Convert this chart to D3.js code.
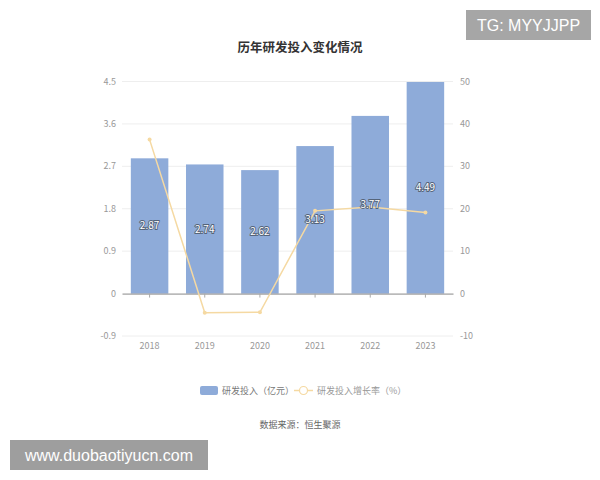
<!DOCTYPE html>
<html>
<head>
<meta charset="utf-8">
<script src="https://cdn.jsdelivr.net/npm/d3@7/dist/d3.min.js"></script>
<style>
  body { margin: 0; background: #fff; }
  svg { font-family: "Noto Sans CJK SC", "Noto Sans", sans-serif; }
</style>
</head>
<body>
<div id="chart"></div>
<script>
/** Chart data */
const years = ["2018", "2019", "2020", "2021", "2022", "2023"];
const investment = [2.87, 2.74, 2.62, 3.13, 3.77, 4.49];
const growthRate = [36.3, -4.5, -4.4, 19.5, 20.4, 19.1];
const leftTicks = [-0.9, 0, 0.9, 1.8, 2.7, 3.6, 4.5];
const rightTicks = [-10, 0, 10, 20, 30, 40, 50];

/** Graph configs */
const width = 600;
const height = 480;
const plot = { left: 122, right: 453, top: 81.5, bottom: 336 };
const barColor = "#8eabd9";
const lineColor = "#f5d9a2";

const svg = d3
  .select("#chart")
  .append("svg")
  .attr("width", width)
  .attr("height", height);

const x = d3
  .scaleBand()
  .domain(years)
  .range([plot.left, plot.right])
  .paddingInner(0.32)
  .paddingOuter(0.16);

const yLeft = d3.scaleLinear().domain([-0.9, 4.5]).range([plot.bottom, plot.top]);
const yRight = d3.scaleLinear().domain([-10, 50]).range([plot.bottom, plot.top]);

/** Title */
svg
  .append("text")
  .attr("x", 300)
  .attr("y", 52)
  .attr("text-anchor", "middle")
  .attr("font-size", 12.5)
  .attr("font-weight", "bold")
  .attr("fill", "#333")
  .text("历年研发投入变化情况");

/** Gridlines */
svg
  .append("g")
  .selectAll("line")
  .data(leftTicks.filter((d) => d !== 0))
  .join("line")
  .attr("x1", plot.left)
  .attr("x2", plot.right)
  .attr("y1", (d) => yLeft(d))
  .attr("y2", (d) => yLeft(d))
  .attr("stroke", "#eeeeee");

/** Left axis labels */
svg
  .append("g")
  .selectAll("text")
  .data(leftTicks)
  .join("text")
  .attr("x", plot.left - 6)
  .attr("y", (d) => yLeft(d))
  .attr("dy", "0.35em")
  .attr("text-anchor", "end")
  .attr("font-size", 9)
  .attr("fill", "#999")
  .text((d) => d);

/** Right axis labels */
svg
  .append("g")
  .selectAll("text")
  .data(rightTicks)
  .join("text")
  .attr("x", plot.right + 7)
  .attr("y", (d) => yRight(d))
  .attr("dy", "0.35em")
  .attr("text-anchor", "start")
  .attr("font-size", 9)
  .attr("fill", "#999")
  .text((d) => d);

/** Bars */
svg
  .append("g")
  .selectAll("rect")
  .data(investment)
  .join("rect")
  .attr("x", (_, i) => x(years[i]))
  .attr("width", x.bandwidth())
  .attr("y", (d) => yLeft(d))
  .attr("height", (d) => yLeft(0) - yLeft(d))
  .attr("fill", barColor);

/** Zero axis line with ticks */
const xAxis = svg
  .append("g")
  .attr("transform", `translate(0, ${yLeft(0)})`)
  .call(d3.axisBottom(x).tickSize(4).tickSizeOuter(0).tickFormat(""));
xAxis.select(".domain").attr("stroke", "#888");
xAxis.selectAll(".tick line").attr("stroke", "#aaa");

/** X labels */
svg
  .append("g")
  .selectAll("text")
  .data(years)
  .join("text")
  .attr("x", (d) => x(d) + x.bandwidth() / 2)
  .attr("y", plot.bottom + 13)
  .attr("text-anchor", "middle")
  .attr("font-size", 9)
  .attr("fill", "#999")
  .text((d) => d);

/** Growth line */
const line = d3
  .line()
  .x((_, i) => x(years[i]) + x.bandwidth() / 2)
  .y((d) => yRight(d));

svg
  .append("path")
  .datum(growthRate)
  .attr("d", line)
  .attr("fill", "none")
  .attr("stroke", lineColor)
  .attr("stroke-width", 1.5);

svg
  .append("g")
  .selectAll("circle")
  .data(growthRate)
  .join("circle")
  .attr("cx", (_, i) => x(years[i]) + x.bandwidth() / 2)
  .attr("cy", (d) => yRight(d))
  .attr("r", 2)
  .attr("fill", lineColor);

/** Bar labels */
svg
  .append("g")
  .selectAll("text")
  .data(investment)
  .join("text")
  .attr("x", (_, i) => x(years[i]) + x.bandwidth() / 2)
  .attr("y", (d) => (yLeft(d) + yLeft(0)) / 2)
  .attr("dy", "0.35em")
  .attr("text-anchor", "middle")
  .attr("font-size", 10)
  .attr("fill", "#fff")
  .attr("stroke", "#55647a")
  .attr("stroke-width", 1.8)
  .attr("paint-order", "stroke")
  .text((d) => d.toFixed(2));

/** Legend */
const legend = svg.append("g").attr("font-size", 9);
legend
  .append("rect")
  .attr("x", 200)
  .attr("y", 386)
  .attr("width", 18)
  .attr("height", 9)
  .attr("rx", 2)
  .attr("fill", barColor);
legend
  .append("text")
  .attr("x", 222)
  .attr("y", 390.5)
  .attr("dy", "0.35em")
  .attr("fill", "#777")
  .text("研发投入（亿元）");
legend
  .append("line")
  .attr("x1", 294)
  .attr("x2", 313)
  .attr("y1", 390.5)
  .attr("y2", 390.5)
  .attr("stroke", lineColor)
  .attr("stroke-width", 1.5);
legend
  .append("circle")
  .attr("cx", 303.5)
  .attr("cy", 390.5)
  .attr("r", 4)
  .attr("fill", "#fff")
  .attr("stroke", lineColor)
  .attr("stroke-width", 1.2);
legend
  .append("text")
  .attr("x", 317)
  .attr("y", 390.5)
  .attr("dy", "0.35em")
  .attr("fill", "#999")
  .text("研发投入增长率（%）");

/** Source */
svg
  .append("text")
  .attr("x", 300)
  .attr("y", 425)
  .attr("dy", "0.35em")
  .attr("text-anchor", "middle")
  .attr("font-size", 9)
  .attr("fill", "#666")
  .text("数据来源：恒生聚源");

/** Watermarks */
svg
  .append("rect")
  .attr("x", 466)
  .attr("y", 10)
  .attr("width", 125)
  .attr("height", 30)
  .attr("fill", "#a6a6a6");
svg
  .append("text")
  .attr("x", 528.5)
  .attr("y", 25)
  .attr("dy", "0.35em")
  .attr("text-anchor", "middle")
  .attr("font-family", "Liberation Sans, Arial, sans-serif")
  .attr("font-size", 16)
  .attr("fill", "#fff")
  .text("TG: MYYJJPP");

svg
  .append("rect")
  .attr("x", 10)
  .attr("y", 440)
  .attr("width", 198)
  .attr("height", 30)
  .attr("fill", "#9e9e9e");
svg
  .append("text")
  .attr("x", 109)
  .attr("y", 455)
  .attr("dy", "0.35em")
  .attr("text-anchor", "middle")
  .attr("font-family", "Liberation Sans, Arial, sans-serif")
  .attr("font-size", 16)
  .attr("fill", "#fff")
  .text("www.duobaotiyucn.com");
</script>
</body>
</html>
